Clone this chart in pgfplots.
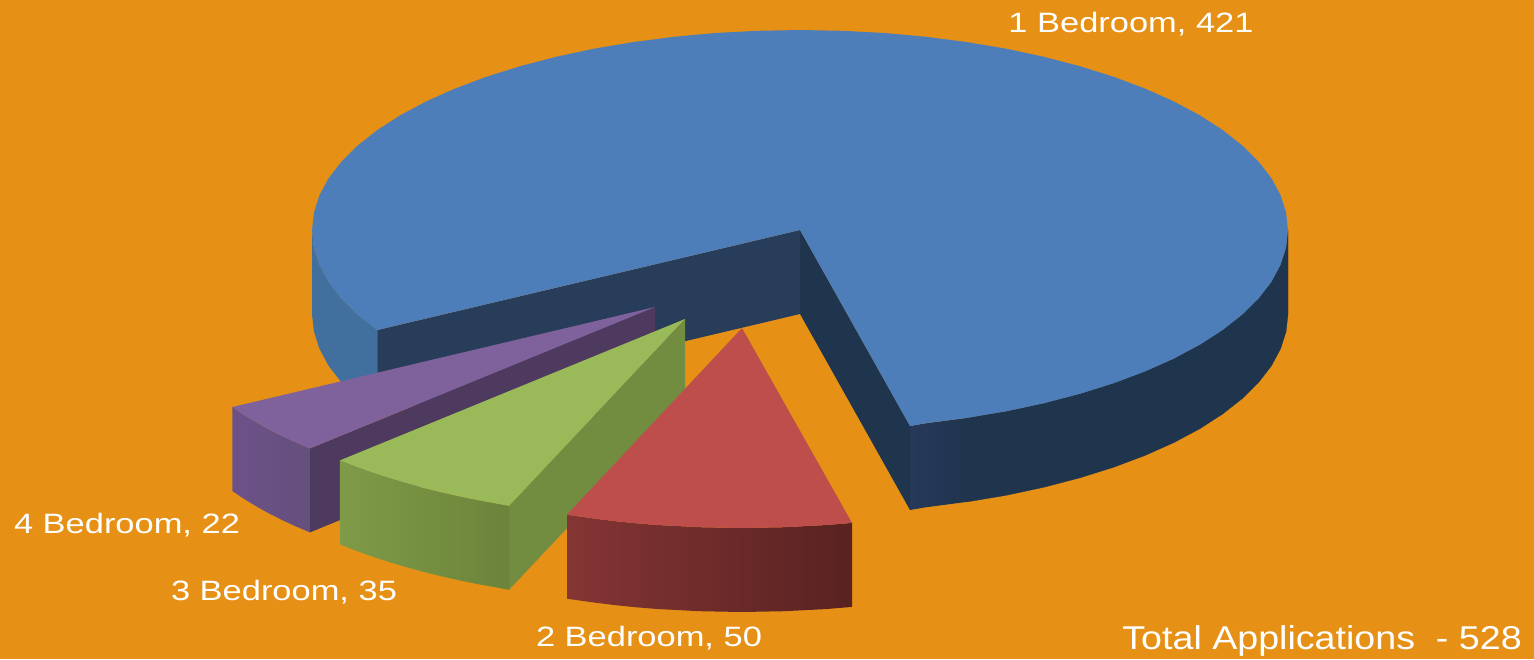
\documentclass[border=0pt]{standalone}
\usepackage{pgfplots}
\pgfplotsset{compat=1.18}
\usepackage{fontspec}
\setmainfont{Liberation Sans}

\definecolor{bgorange}{HTML}{E69116}
\definecolor{bluetop}{HTML}{4D7EBA}
\definecolor{bluewall}{HTML}{41709F}
\definecolor{navyleft}{HTML}{283D5A}
\definecolor{navyright}{HTML}{1F344D}
\definecolor{navyfront}{HTML}{27395A}
\definecolor{purpletop}{HTML}{7F619B}
\definecolor{purpleinner}{HTML}{4E3A5E}
\definecolor{purpleA}{HTML}{6C5188}
\definecolor{purpleB}{HTML}{64507D}
\definecolor{greentop}{HTML}{9ABA59}
\definecolor{greeninner}{HTML}{728C40}
\definecolor{greenA}{HTML}{7F9B47}
\definecolor{greenB}{HTML}{6B843B}
\definecolor{redtop}{HTML}{BD4E4B}
\definecolor{redA}{HTML}{843534}
\definecolor{redB}{HTML}{582221}

\newcommand{\lab}[1]{\scalebox{1.23}[1]{\fontsize{28}{30}\selectfont #1}}

\begin{document}
\begin{tikzpicture}
\begin{axis}[
    scale only axis,
    width=1534pt,
    height=659pt,
    xmin=0, xmax=1534,
    ymin=0, ymax=659,
    y dir=reverse,
    hide axis,
    no markers,
]

% background
\addplot[fill=bgorange, draw=none] coordinates {(0,0) (1534,0) (1534,659) (0,659)} -- cycle;

% 1 Bedroom: walls
\addplot[fill=bluewall, draw=none] coordinates {
    (312,230) (313.9,247.4) (319.4,264.7) (328.6,281.8) (341.4,298.4) (357.7,314.5) (377.4,330)
    (377.4,414) (357.7,398.5) (341.4,382.4) (328.6,365.8) (319.4,348.7) (313.9,331.4) (312,314)
} -- cycle;
\addplot[left color=navyfront, right color=navyright, draw=none] coordinates {
    (910,426) (926.3,423.2) (966.9,417.9) (966.9,501.9) (926.3,507.2) (910,510)
} -- cycle;
\addplot[fill=navyright, draw=navyright, line width=0.3pt] coordinates {
    (966.9,417.9) (1006.2,411.3) (1044,403.2) (1079.9,393.8) (1113.7,383.2) (1145.1,371.4)
    (1173.8,358.6) (1199.8,344.7) (1222.6,330) (1242.3,314.5) (1258.6,298.4) (1271.4,281.8)
    (1280.6,264.7) (1286.1,247.4) (1288,230)
    (1288,314) (1286.1,331.4) (1280.6,348.7) (1271.4,365.8) (1258.6,382.4) (1242.3,398.5)
    (1222.6,414) (1199.8,428.7) (1173.8,442.6) (1145.1,455.4) (1113.7,467.2) (1079.9,477.8)
    (1044,487.2) (1006.2,495.3) (966.9,501.9)
} -- cycle;
\addplot[fill=navyleft, draw=none] coordinates {(377.4,330) (800,230) (800,314) (377.4,414)} -- cycle;
\addplot[fill=navyright, draw=none] coordinates {(800,230) (910,426) (910,510) (800,314)} -- cycle;

% 1 Bedroom: top
\addplot[fill=bluetop, draw=none] coordinates {
    (800,230) (910,426) (926.3,423.2) (966.9,417.9) (1006.2,411.3) (1044,403.2) (1079.9,393.8)
    (1113.7,383.2) (1145.1,371.4) (1173.8,358.6) (1199.8,344.7) (1222.6,330) (1242.3,314.5)
    (1258.6,298.4) (1271.4,281.8) (1280.6,264.7) (1286.1,247.4) (1288,230)
    (1286.1,212.6) (1280.6,195.3) (1271.4,178.2) (1258.6,161.6) (1242.3,145.5) (1222.6,130)
    (1199.8,115.3) (1173.8,101.4) (1145.1,88.6) (1113.7,76.8) (1079.9,66.2) (1044,56.8)
    (1006.2,48.7) (966.9,42.1) (926.3,36.8) (884.7,33) (842.5,30.8) (800,30)
    (757.5,30.8) (715.3,33) (673.7,36.8) (633.1,42.1) (593.8,48.7) (556,56.8) (520.1,66.2)
    (486.3,76.8) (454.9,88.6) (426.2,101.4) (400.2,115.3) (377.4,130) (357.7,145.5)
    (341.4,161.6) (328.6,178.2) (319.4,195.3) (313.9,212.6) (312,230)
    (313.9,247.4) (319.4,264.7) (328.6,281.8) (341.4,298.4) (357.7,314.5) (377.4,330)
} -- cycle;

% 4 Bedroom
\addplot[fill=purpleinner, draw=none] coordinates {(655,307) (309.9,448.4) (309.9,532.4) (655,391)} -- cycle;
\addplot[left color=purpleA, right color=purpleB, draw=none] coordinates {
    (232.4,407) (243.4,414.5) (255.2,421.7) (267.8,428.8) (281.2,435.6) (295.2,442.1) (309.9,448.4)
    (309.9,532.4) (295.2,526.1) (281.2,519.6) (267.8,512.8) (255.2,505.7) (243.4,498.5) (232.4,491)
} -- cycle;
\addplot[fill=purpletop, draw=none] coordinates {
    (655,307) (232.4,407) (243.4,414.5) (255.2,421.7) (267.8,428.8) (281.2,435.6) (295.2,442.1) (309.9,448.4)
} -- cycle;

% 3 Bedroom
\addplot[fill=greeninner, draw=none] coordinates {(685,319) (509,505.8) (509,589.8) (685,403)} -- cycle;
\addplot[left color=greenA, right color=greenB, draw=none] coordinates {
    (339.9,460.4) (355.3,466.5) (371.3,472.2) (387.9,477.7) (405.1,482.8) (422.8,487.7)
    (441,492.2) (459.7,496.4) (478.8,500.3) (494.3,503.1) (509,505.8)
    (509,589.8) (494.3,587.1) (478.8,584.3) (459.7,580.4) (441,576.2) (422.8,571.7)
    (405.1,566.8) (387.9,561.7) (371.3,556.2) (355.3,550.5) (339.9,544.4)
} -- cycle;
\addplot[fill=greentop, draw=none] coordinates {
    (685,319) (339.9,460.4) (355.3,466.5) (371.3,472.2) (387.9,477.7) (405.1,482.8) (422.8,487.7)
    (441,492.2) (459.7,496.4) (478.8,500.3) (494.3,503.1) (509,505.8)
} -- cycle;

% 2 Bedroom
\addplot[left color=redA, right color=redB, draw=none] coordinates {
    (567,514.7) (575.1,515.9) (595.3,518.7) (615.7,521.2) (636.4,523.3) (657.3,525) (699.5,527.2)
    (742,528) (784.5,527.2) (826.7,525) (852,522.9)
    (852,606.9) (826.7,609) (784.5,611.2) (742,612) (699.5,611.2) (657.3,609) (636.4,607.3)
    (615.7,605.2) (595.3,602.7) (575.1,599.9) (567,598.7)
} -- cycle;
\addplot[fill=redtop, draw=none] coordinates {
    (742,328) (567,514.7) (575.1,515.9) (595.3,518.7) (615.7,521.2) (636.4,523.3) (657.3,525)
    (699.5,527.2) (742,528) (784.5,527.2) (826.7,525) (852,522.9)
} -- cycle;

% labels
\node[white, inner sep=0pt] at (axis cs:1131,24) {\lab{1 Bedroom, 421}};
\node[white, inner sep=0pt] at (axis cs:127,525) {\lab{4 Bedroom, 22}};
\node[white, inner sep=0pt] at (axis cs:284,592) {\lab{3 Bedroom, 35}};
\node[white, inner sep=0pt] at (axis cs:649,638) {\lab{2 Bedroom, 50}};
\node[white, inner sep=0pt, anchor=east] at (axis cs:1522,641) {\scalebox{1.14}[1]{\fontsize{33}{36}\selectfont Total Applications\ \ - 528}};

\end{axis}
\end{tikzpicture}
\end{document}
